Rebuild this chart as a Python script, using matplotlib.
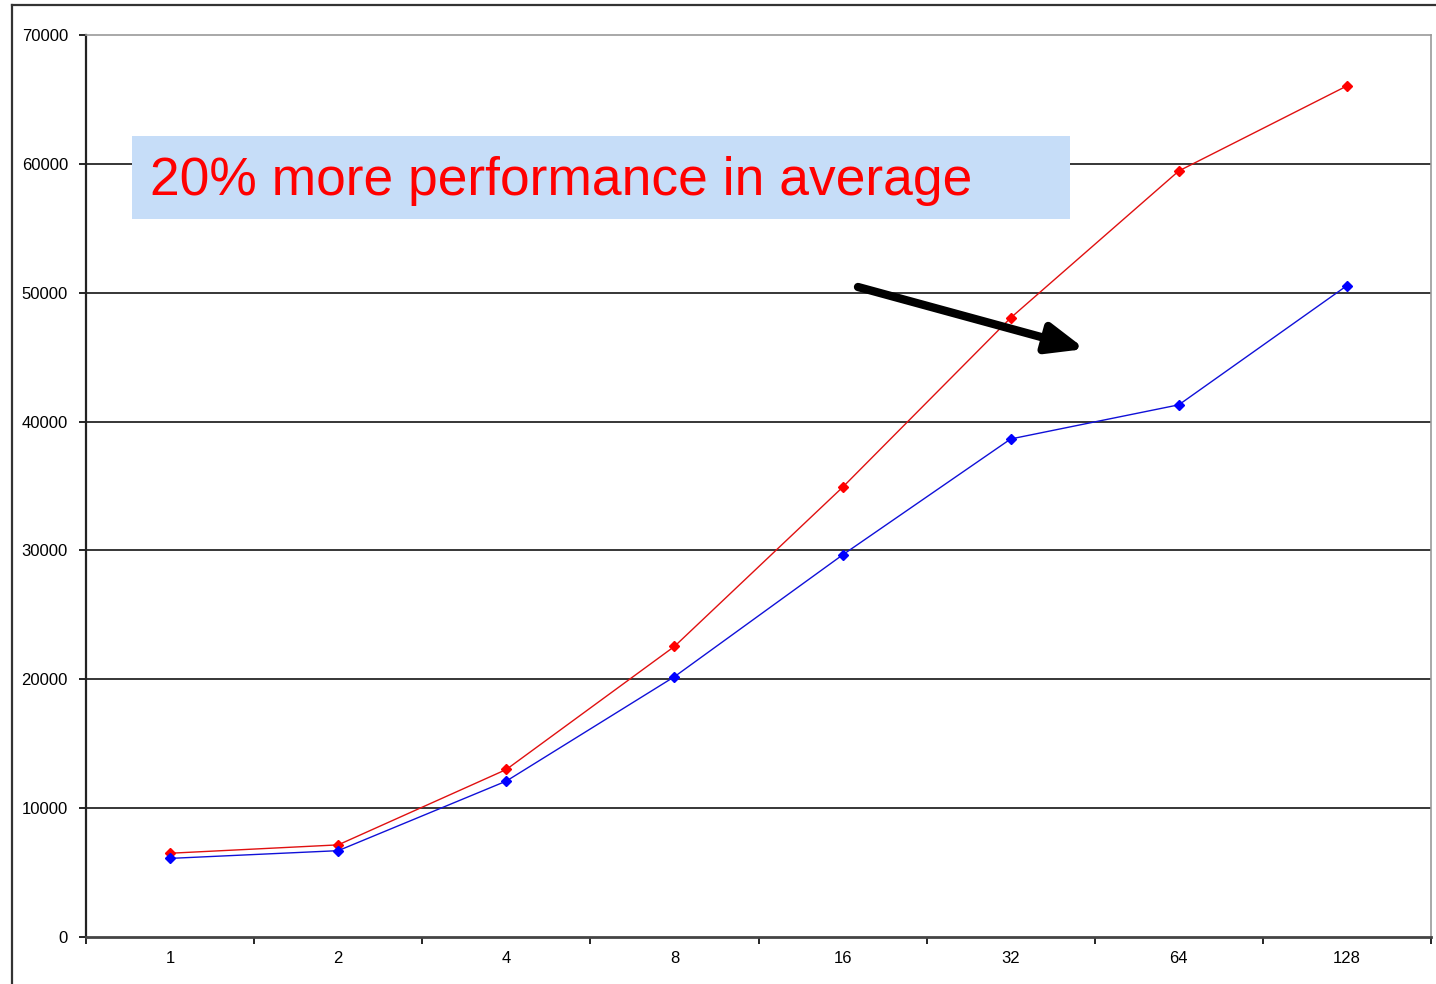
import numpy as np
import matplotlib.pyplot as plt
from matplotlib.patches import Rectangle
from matplotlib.lines import Line2D

plt.rcParams['font.family'] = ['Liberation Sans', 'DejaVu Sans']

categories = ['1', '2', '4', '8', '16', '32', '64', '128']
red_values = [6500, 7150, 13000, 22550, 34900, 48050, 59450, 66050]
blue_values = [6100, 6700, 12100, 20200, 29650, 38650, 41300, 50550]
yticks = [0, 10000, 20000, 30000, 40000, 50000, 60000, 70000]

fig = plt.figure(figsize=(14.36, 9.84), dpi=100)
ax = fig.add_axes([86 / 1436, 1 - 937 / 984, 1345 / 1436, 902 / 984])

x = np.arange(len(categories))
ax.plot(x, red_values, color='#e01010', lw=1.0, marker='D', ms=5,
        mfc='red', mec='red', zorder=3)
ax.plot(x, blue_values, color='#1010d8', lw=1.0, marker='D', ms=5,
        mfc='blue', mec='blue', zorder=3)

ax.set_xlim(-0.5, len(categories) - 0.5)
ax.set_ylim(0, 70000)
ax.set_yticks(yticks)
ax.set_yticklabels([str(v) for v in yticks], fontsize=12)
ax.set_xticks(x)
ax.set_xticklabels(categories, fontsize=12)
ax.tick_params(axis='x', which='major', length=0, pad=10)
ax.set_xticks(np.arange(-0.5, len(categories)), minor=True)
ax.tick_params(axis='x', which='minor', length=5, direction='out', width=1.2)
ax.tick_params(axis='y', length=5, direction='out', width=1.2, pad=8)

for v in yticks[1:-1]:
    ax.axhline(v, color='black', lw=1.1, zorder=1)

ax.spines['left'].set_color('#222222')
ax.spines['bottom'].set_color('#444444')
ax.spines['left'].set_linewidth(1.6)
ax.spines['bottom'].set_linewidth(2)
ax.spines['top'].set_color('#999999')
ax.spines['right'].set_color('#999999')
ax.spines['top'].set_linewidth(1.2)
ax.spines['right'].set_linewidth(1.2)

# outer frame
fig.add_artist(Line2D([12 / 1436, 12 / 1436], [0, 1 - 5 / 984],
                      transform=fig.transFigure, color='#333333', lw=1.6))
fig.add_artist(Line2D([12 / 1436, 1], [1 - 5 / 984, 1 - 5 / 984],
                      transform=fig.transFigure, color='#333333', lw=1.6))

# callout box
fig.patches.append(Rectangle((132 / 1436, 1 - 219 / 984), 938 / 1436, 83 / 984,
                             transform=fig.transFigure, facecolor='#c6ddf8',
                             edgecolor='none', zorder=4))
fig.text(150 / 1436, 1 - 181 / 984, '20% more performance in average',
         color='#ff0000', fontsize=38.4, va='center', ha='left', zorder=5)

ax.annotate('', xy=(1085 / 1436, 1 - 349 / 984), xytext=(858 / 1436, 1 - 287 / 984),
            xycoords='figure fraction', textcoords='figure fraction',
            arrowprops=dict(arrowstyle='-|>,head_length=2.2,head_width=0.9',
                            color='black', lw=6, shrinkA=0, shrinkB=0))

fig.savefig('out.png', dpi=100)
